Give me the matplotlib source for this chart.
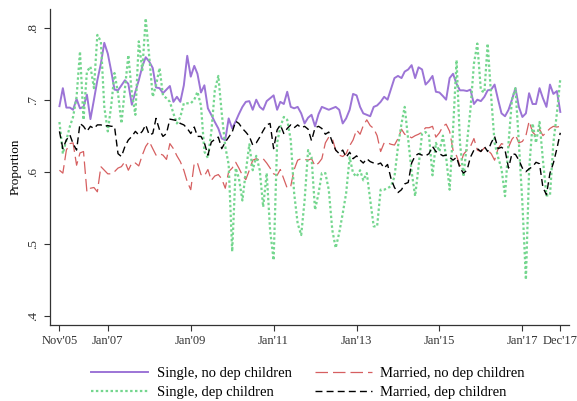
import pandas as pd
import matplotlib
matplotlib.use("Agg")
import matplotlib.pyplot as plt

# monthly, Nov 2005 - Dec 2017
months = pd.date_range("2005-11-01", periods=146, freq="MS")

single_nodep = [
    .691, .716, .689, .689, .686, .701, .688, .690, .707, .673,
    .700, .727, .750, .779, .764, .739, .714, .713, .720, .727,
    .722, .693, .711, .727, .746, .759, .753, .744, .717, .716,
    .709, .714, .719, .697, .704, .697, .720, .761, .732, .747,
    .736, .710, .720, .688, .679, .669, .660, .646, .644, .674,
    .660, .670, .680, .690, .697, .698, .686, .700, .690, .686,
    .698, .702, .706, .686, .697, .694, .711, .690, .688, .690,
    .681, .667, .675, .679, .663, .680, .690, .688, .686, .688,
    .690, .686, .667, .674, .686, .708, .706, .690, .681, .679,
    .677, .690, .692, .697, .704, .700, .715, .730, .733, .730,
    .739, .742, .748, .730, .745, .742, .721, .726, .733, .711,
    .710, .705, .700, .730, .736, .722, .713, .713, .712, .714,
    .694, .700, .698, .704, .713, .714, .721, .700, .681, .677,
    .686, .700, .716, .690, .676, .681, .709, .694, .694, .716,
    .702, .690, .721, .708, .712, .683,
]

married_nodep = [
    .602, .598, .630, .639, .640, .609, .626, .628, .572, .577,
    .578, .572, .607, .602, .597, .597, .600, .605, .607, .614,
    .602, .612, .612, .608, .623, .635, .642, .632, .623, .625,
    .623, .617, .639, .632, .622, .614, .602, .586, .575, .612,
    .612, .596, .594, .603, .588, .594, .596, .590, .577, .600,
    .605, .613, .605, .595, .589, .602, .616, .618, .616, .618,
    .612, .605, .597, .595, .603, .590, .577, .580, .603, .616,
    .618, .617, .616, .618, .608, .612, .618, .640, .648, .646,
    .630, .623, .621, .625, .636, .644, .658, .652, .664, .672,
    .664, .660, .650, .628, .640, .640, .638, .637, .646, .659,
    .652, .650, .647, .650, .652, .655, .661, .661, .663, .648,
    .654, .663, .666, .656, .630, .622, .608, .624, .630, .635,
    .646, .630, .628, .633, .630, .625, .616, .632, .639, .637,
    .634, .645, .651, .640, .642, .650, .670, .655, .650, .659,
    .650, .655, .660, .663, .662, .663,
]

single_dep = [
    .669, .625, .644, .663, .676, .704, .767, .672, .739, .746,
    .716, .790, .781, .690, .656, .693, .737, .709, .667, .716,
    .762, .709, .679, .781, .741, .813, .760, .704, .720, .744,
    .706, .702, .697, .681, .667, .676, .695, .695, .695, .700,
    .711, .692, .628, .619, .655, .713, .733, .681, .635, .610,
    .489, .605, .591, .560, .600, .638, .602, .622, .602, .551,
    .598, .519, .477, .640, .662, .676, .672, .644, .570, .528,
    .512, .560, .630, .620, .547, .570, .598, .598, .575, .519,
    .494, .515, .542, .570, .620, .598, .593, .602, .588, .598,
    .561, .524, .524, .575, .575, .577, .580, .593, .635, .667,
    .690, .644, .600, .566, .607, .653, .655, .650, .595, .640,
    .628, .650, .620, .575, .658, .755, .640, .593, .640, .686,
    .750, .778, .713, .710, .778, .704, .640, .620, .604, .566,
    .640, .700, .716, .640, .556, .450, .602, .667, .640, .669,
    .616, .567, .567, .640, .681, .729,
]

married_dep = [
    .656, .632, .644, .651, .639, .630, .667, .663, .656, .663,
    .660, .665, .665, .663, .664, .663, .663, .625, .621, .635,
    .644, .649, .656, .651, .656, .665, .651, .653, .674, .658,
    .649, .653, .673, .672, .671, .667, .665, .660, .653, .662,
    .649, .649, .640, .623, .641, .645, .648, .632, .641, .648,
    .655, .670, .667, .660, .655, .649, .637, .640, .648, .657,
    .665, .667, .632, .658, .665, .653, .660, .665, .661, .665,
    .661, .663, .659, .643, .661, .663, .660, .652, .655, .641,
    .630, .625, .630, .620, .627, .618, .622, .616, .612, .618,
    .614, .612, .610, .612, .605, .610, .590, .578, .571, .575,
    .583, .585, .612, .622, .625, .623, .622, .625, .635, .628,
    .625, .622, .623, .620, .616, .620, .605, .598, .602, .620,
    .630, .632, .628, .635, .628, .640, .649, .632, .634, .630,
    .605, .625, .624, .616, .605, .600, .604, .607, .613, .611,
    .578, .568, .598, .612, .632, .654,
]

tick_dates = ["2005-11-01", "2007-01-01", "2009-01-01", "2011-01-01",
              "2013-01-01", "2015-01-01", "2017-01-01", "2017-12-01"]
tick_labels = ["Nov'05", "Jan'07", "Jan'09", "Jan'11",
               "Jan'13", "Jan'15", "Jan'17", "Dec'17"]
y_ticks = [.4, .5, .6, .7, .8]
y_labels = [".4", ".5", ".6", ".7", ".8"]

plt.rcParams["font.family"] = ["Liberation Serif", "DejaVu Serif"]

fig = plt.figure(figsize=(5.77, 4.01), dpi=100)
ax = fig.add_axes([0.0867, 0.1895, 0.8993, 0.7881])

l1, = ax.plot(months, single_nodep, color="#9c74d6", lw=1.4, label="Single, no dep children")
l2, = ax.plot(months, married_nodep, color="#d65f60", lw=0.9, dashes=(10, 4),
              label="Married, no dep children")
l3, = ax.plot(months, single_dep, color="#74d68e", lw=1.6, dashes=(1.1, 1.1),
              label="Single, dep children")
l4, = ax.plot(months, married_dep, color="black", lw=1.0, dashes=(5, 3),
              label="Married, dep children")

ax.set_xlim(pd.Timestamp("2005-08-10"), pd.Timestamp("2018-02-15"))
ax.set_ylim(.387, .826)
ax.set_xticks(pd.to_datetime(tick_dates))
ax.set_xticklabels(tick_labels, fontsize=9)
ax.set_yticks(y_ticks)
ax.set_yticklabels(y_labels, fontsize=9.5, rotation=90, va="center")
ax.set_ylabel("Proportion", fontsize=9.5)

for side in ["top", "right"]:
    ax.spines[side].set_visible(False)
for side in ["left", "bottom"]:
    ax.spines[side].set_color("#333333")
    ax.spines[side].set_linewidth(0.9)
ax.tick_params(direction="out", length=4, width=0.8, colors="#333333")

# row order as in the original: singles left, married right
ax.legend([l1, l3, l2, l4], [l.get_label() for l in (l1, l3, l2, l4)],
          loc="upper center", bbox_to_anchor=(0.497, -0.09), ncol=2, frameon=False,
          fontsize=10.5, handlelength=3.9, handletextpad=0.6,
          columnspacing=1.6, labelspacing=0.42)

fig.savefig("out.png", dpi=100, facecolor="white")
